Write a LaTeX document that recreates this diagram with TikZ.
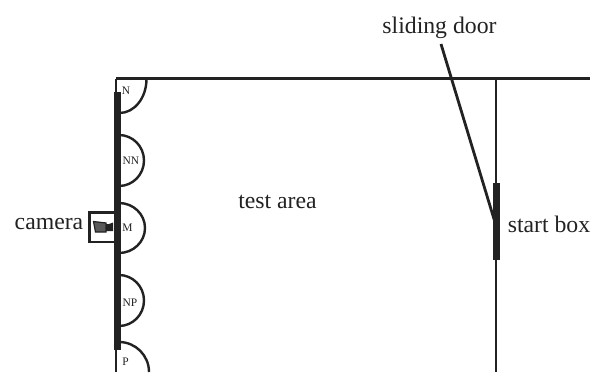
\documentclass[tikz,border=0pt]{standalone}
\usepackage{fontspec}
\setmainfont{Liberation Serif}
\definecolor{ink}{HTML}{222222}
\tikzset{
  px/.style={x=0.75pt,y=-0.75pt},
  wall/.style={draw=ink,line width=1.7pt},
  thin wall/.style={draw=ink,line width=1.6pt},
  heavy/.style={draw=ink,line width=4.6pt},
  cup/.style={draw=ink,line width=1.8pt},
  lbl/.style={font=\fontsize{17.8}{20}\selectfont,text=ink,inner sep=0pt},
  small/.style={font=\fontsize{8.6}{10}\selectfont,text=ink,inner sep=0pt}
}
\begin{document}
\begin{tikzpicture}[px]
\useasboundingbox (0,0) rectangle (590,372);
% named geometry
\coordinate (tl) at (116,78.5);
\coordinate (tr) at (590,78.5);
\coordinate (bl) at (116,372);
\coordinate (jn) at (496,78.5);
\coordinate (jb) at (496,372);
\coordinate (dtop) at (441,44);
\coordinate (dbot) at (495.5,224);
% walls
\draw[wall] (tl) -- (tr);
\draw[wall] (bl) -- (tl);
\draw[thin wall] (jn) -- (jb);
\draw[draw=ink,line width=2.1pt] (dtop) -- (dbot);
\draw[heavy] (117.5,92) -- (117.5,350);
\draw[draw=ink,line width=5.6pt] (496.5,183) -- (496.5,260);
% cups
\draw[cup] (146.5,79) arc[start angle=0,end angle=90,x radius=27,y radius=34];
\draw[cup] (119,135) arc[start angle=-90,end angle=90,x radius=25,y radius=25.5];
\draw[cup] (119,203) arc[start angle=-90,end angle=90,x radius=26,y radius=25];
\draw[cup] (119,275) arc[start angle=-90,end angle=90,x radius=25,y radius=25.5];
\draw[cup] (119,342) arc[start angle=-90,end angle=0,x radius=30,y radius=30];
% camera housing
\draw[draw=ink,line width=1.6pt] (116,212.5) -- (89.5,212.5) -- (89.5,242) -- (116,242);
\fill[gray!70!black,draw=ink,line width=0.9pt] (93.5,221.5) -- (106,223) -- (106,232) -- (95.5,232) -- cycle;
\fill[ink] (106,224) -- (109,224) -- (113,222.5) -- (113,231) -- (106,231) -- cycle;
% labels
\node[lbl] (door) at (439.5,28) {sliding door};
\node[lbl] (area) at (277.5,201.5) {test area};
\node[lbl] (cam) at (49,224) {camera};
\node[lbl] (sb) at (549,224) {start box};
\node[small] (n) at (126,91) {N};
\node[small] (nn) at (131,160.5) {NN};
\node[small] (m) at (127.5,228) {M};
\node[small] (np) at (130,302.5) {NP};
\node[small] (p) at (125.5,361.5) {P};
\end{tikzpicture}
\end{document}
